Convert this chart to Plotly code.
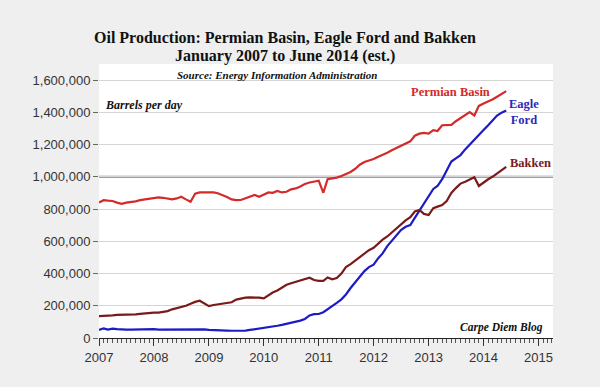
import pandas as pd
import plotly.graph_objects as go

months = pd.date_range("2007-01-01", periods=90, freq="MS")

permian = [840, 855, 852, 850, 840, 832, 840, 842, 848, 855, 860, 865,
           868, 872, 870, 866, 860, 866, 876, 860, 845, 895, 903, 903,
           903, 903, 898, 888, 875, 860, 855, 856, 865, 875, 887, 876,
           890, 903, 901, 912, 903, 907, 922, 928, 940, 955, 965, 970,
           976, 901, 985, 990, 995, 1005, 1015, 1030, 1050, 1075, 1092, 1100,
           1110, 1125, 1135, 1150, 1165, 1180, 1195, 1210, 1220, 1255, 1268, 1273,
           1268, 1290, 1284, 1320, 1322, 1322, 1345, 1365, 1385, 1402, 1380, 1440,
           1455, 1466, 1480, 1497, 1512, 1532]

eagle_ford = [50, 60, 52, 58, 55, 52, 52, 52, 53, 52, 52, 52,
              55, 52, 52, 52, 52, 52, 52, 55, 55, 55, 55, 54,
              50, 50, 50, 48, 46, 45, 45, 45, 46, 50, 54, 58,
              60, 65, 70, 76, 81, 87, 95, 100, 108, 118, 140, 148,
              149, 160, 178, 195, 218, 240, 270, 310, 345, 385, 415, 440,
              455, 495, 525, 570, 605, 640, 670, 690, 701, 745, 790, 835,
              885, 925, 943, 985, 1040, 1095, 1115, 1135, 1170, 1200, 1235, 1265,
              1290, 1320, 1350, 1380, 1398, 1412]

bakken = [136, 136, 136, 140, 143, 143, 144, 145, 147, 150, 153, 156,
          157, 157, 160, 167, 178, 184, 190, 200, 212, 224, 231, 215,
          198, 205, 209, 209, 215, 222, 238, 245, 250, 252, 252, 250,
          246, 265, 282, 295, 312, 330, 340, 349, 360, 366, 374, 360,
          355, 355, 376, 364, 372, 400, 440, 458, 480, 505, 525, 545,
          560, 587, 610, 630, 655, 680, 705, 730, 750, 785, 794, 770,
          763, 805, 815, 825, 850, 900, 930, 958, 970, 985, 997, 943,
          965, 985, 1000, 1020, 1040, 1062]

y_ticks = [0, 200000, 400000, 600000, 800000, 1000000, 1200000, 1400000, 1600000]
x_tick_years = ["2007", "2008", "2009", "2010", "2011", "2012", "2013", "2014", "2015"]
reference_level = 1000000

SERIF = "Liberation Serif"
SANS = "Liberation Sans, Arial, sans-serif"
BG = "#efefef"

fig = go.Figure()
series = [("Permian Basin", permian, "#d42a2a"),
          ("Eagle Ford", eagle_ford, "#1c1cc4"),
          ("Bakken", bakken, "#7a1a1a")]
for name, vals, col in series:
    fig.add_trace(go.Scatter(x=months, y=[v * 1000 for v in vals], mode="lines",
                             name=name, line=dict(color=col, width=2.2),
                             hoverinfo="skip"))

fig.add_shape(type="line", xref="paper", yref="y", x0=0, x1=1,
              y0=reference_level, y1=reference_level,
              line=dict(color="#7f7f7f", width=2), layer="below")

fig.update_layout(
    width=600, height=387,
    margin=dict(l=99, r=47, t=64, b=49),
    paper_bgcolor=BG, plot_bgcolor="#ffffff",
    showlegend=False,
    xaxis=dict(type="date", range=["2007-01-01", "2015-04-08"],
               tickvals=[y + "-01-01" for y in x_tick_years], ticktext=x_tick_years,
               ticks="outside", ticklen=7, tickwidth=1, tickcolor="#333",
               showline=True, linecolor="#222", linewidth=1,
               showgrid=False, zeroline=False,
               tickfont=dict(family=SANS, size=13, color="#333"),
               minor=dict(dtick="M1", ticks="outside", ticklen=4, tickcolor="#555", showgrid=False)),
    yaxis=dict(range=[0, 1700000], tickvals=y_ticks, tickformat=",d",
               ticks="outside", ticklen=5, tickcolor="#666",
               showgrid=True, gridcolor="#d4d4d4", gridwidth=1,
               zeroline=False, showline=False,
               tickfont=dict(family=SANS, size=13, color="#333")),
)

ann = [
    dict(text="<b>Oil Production: Permian Basin, Eagle Ford and Bakken</b>", x=285, y=38, size=16, color="#111"),
    dict(text="<b>January 2007 to June 2014 (est.)</b>", x=285, y=56, size=16, color="#111"),
    dict(text="<b><i>Source: Energy Information Administration</i></b>", x=277, y=75, size=11, color="#111"),
    dict(text="<b><i>Barrels per day</i></b>", x=144, y=105, size=12, color="#111"),
    dict(text="<b>Permian Basin</b>", x=450, y=92, size=12.5, color="#d42a2a"),
    dict(text="<b>Eagle<br>Ford</b>", x=524, y=112, size=12.5, color="#2a2ab8"),
    dict(text="<b>Bakken</b>", x=530, y=163, size=12.5, color="#7a1a1a"),
    dict(text="<b><i>Carpe Diem Blog</i></b>", x=501, y=327, size=11.5, color="#111"),
]
for a in ann:
    fig.add_annotation(text=a["text"], xref="paper", yref="paper",
                       x=(a["x"] - 99) / 454, y=(338 - a["y"]) / 274,
                       xanchor="center", yanchor="middle", showarrow=False,
                       font=dict(family=SERIF, size=a["size"], color=a["color"]),
                       align="center")

fig.write_html("out.html", config={"displayModeBar": False},
               post_script="document.body.style.margin='0';document.body.style.background='%s';"
                           "window.dispatchEvent(new Event('resize'));" % BG)
